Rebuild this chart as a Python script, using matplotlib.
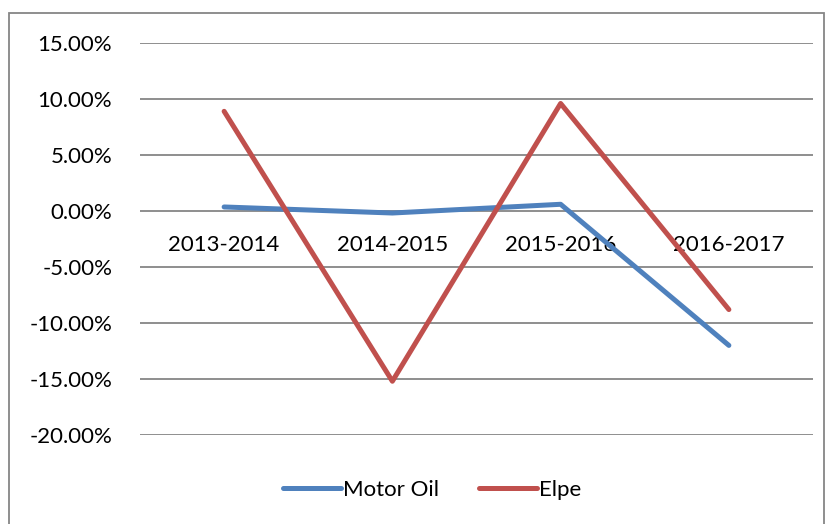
import matplotlib
matplotlib.use('Agg')
from matplotlib import pyplot as plt
from matplotlib.patches import Rectangle

# 数据
periods = ['2013-2014', '2014-2015', '2015-2016', '2016-2017']
motor_oil = [0.36, -0.18, 0.60, -12.0]
elpe = [8.9, -15.2, 9.6, -8.8]
yticks = [15, 10, 5, 0, -5, -10, -15, -20]

plt.rcParams['font.family'] = ['Lato', 'DejaVu Sans']
fs = 16

fig = plt.figure(figsize=(8.28, 5.24), dpi=100)
ax = fig.add_axes([140 / 828, 1 - 435 / 524, (813 - 140) / 828, (435 - 43) / 524])

x = range(len(periods))
ax.plot(x, motor_oil, color='#4F81BD', linewidth=3.6, solid_capstyle='round', label='Motor Oil')
ax.plot(x, elpe, color='#C0504D', linewidth=3.6, solid_capstyle='round', label='Elpe')

# x轴放到0的位置
ax.spines['bottom'].set_position(('data', 0))
for s in ['top', 'right', 'left', 'bottom']:
    ax.spines[s].set_visible(False)

ax.set_xlim(-0.5, len(periods) - 0.5)
ax.set_ylim(-20, 15)
ax.set_yticks(yticks)
ax.set_yticklabels(['%.2f%%' % v for v in yticks], fontsize=fs)
ax.yaxis.grid(True, color='#868686', linewidth=1.3)
ax.set_axisbelow(True)
ax.tick_params(axis='y', length=0, pad=20)

ax.set_xticks(list(x))
ax.set_xticklabels(periods, fontsize=fs)
ax.tick_params(axis='x', length=0, pad=17)

# 外框
fig.patches.append(Rectangle((9 / 828, -0.1), (824 - 9) / 828, 1.1 - 13 / 524,
                             transform=fig.transFigure, fill=False,
                             edgecolor='#868686', linewidth=1.3))

fig.legend(loc='center', bbox_to_anchor=(432 / 828, 1 - 490 / 524), ncol=2,
           frameon=False, fontsize=fs, handlelength=2.6, columnspacing=1.8,
           handletextpad=0.1)

plt.savefig('out.png', dpi=100)
